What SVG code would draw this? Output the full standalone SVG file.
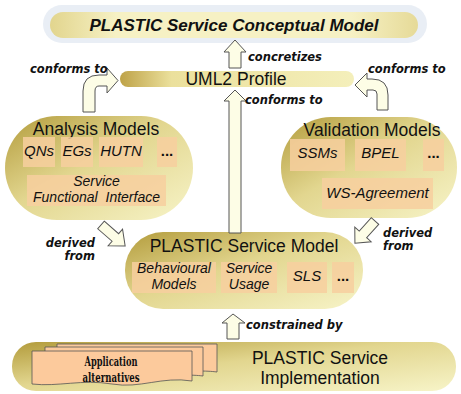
<svg xmlns="http://www.w3.org/2000/svg" width="461" height="394" viewBox="0 0 461 394">
<defs>
<linearGradient id="gold" x1="0" y1="0" x2="1" y2="1">
<stop offset="0" stop-color="#b39c3c"/>
<stop offset="0.45" stop-color="#e2d68f"/>
<stop offset="1" stop-color="#f7f4c8"/>
</linearGradient>
<linearGradient id="uml" x1="0" y1="0" x2="1" y2="0">
<stop offset="0" stop-color="#bea247"/>
<stop offset="0.22" stop-color="#ebe09c"/>
<stop offset="1" stop-color="#f4efbb"/>
</linearGradient>
<linearGradient id="top" x1="0" y1="0" x2="1" y2="0">
<stop offset="0" stop-color="#e2d58e"/>
<stop offset="0.18" stop-color="#f6f1c4"/>
<stop offset="0.82" stop-color="#f6f1c4"/>
<stop offset="1" stop-color="#e6da98"/>
</linearGradient>
<style>
.pill{fill:url(#gold);}
.box{fill:#f7cf9f;fill-opacity:0.85;}
.arrow{fill:#fdfde6;stroke:#555;stroke-width:1;}
.card{fill:#fcca9c;stroke:#555;stroke-width:0.8;}
.lbl{font-family:"DejaVu Sans",sans-serif;font-weight:bold;font-style:italic;font-size:11.5px;fill:#111;}
.title{font-family:"Liberation Sans",Arial,sans-serif;font-size:17.5px;fill:#111;text-anchor:middle;}
.item{font-family:"Liberation Sans",Arial,sans-serif;font-style:italic;font-size:15px;fill:#111;text-anchor:middle;}
.item2{font-family:"Liberation Sans",Arial,sans-serif;font-style:italic;font-size:14px;fill:#111;text-anchor:middle;}
.dots{font-family:"Liberation Sans",Arial,sans-serif;font-weight:bold;font-size:15px;fill:#111;text-anchor:middle;}
.app{font-family:"DejaVu Serif Condensed","DejaVu Serif",serif;font-stretch:condensed;font-weight:bold;font-size:13px;fill:#111;text-anchor:middle;}
</style>
</defs>
<rect width="461" height="394" fill="#ffffff"/>

<g id="conceptual-model">
<rect x="43" y="5" width="384" height="38" rx="19" fill="#e9eef5"/>
<rect x="50" y="12" width="368" height="26" rx="13" fill="url(#top)"/>
<text x="234" y="31" font-family="Liberation Sans,Arial,sans-serif" font-weight="bold" font-style="italic" font-size="17px" fill="#111" text-anchor="middle">PLASTIC Service Conceptual Model</text>
</g>

<g id="uml2-profile">
<rect x="120" y="71" width="234" height="16" rx="8" fill="url(#uml)"/>
<text x="236" y="85" class="title" font-size="17px">UML2 Profile</text>
</g>

<g id="analysis-models">
<rect x="5" y="116" width="188" height="104" rx="52" class="pill"/>
<text x="96" y="135" class="title">Analysis Models</text>
<rect x="23" y="137" width="32" height="30" class="box"/>
<rect x="61" y="137" width="32" height="30" class="box"/>
<rect x="99" y="137" width="44" height="30" class="box"/>
<rect x="157" y="137" width="20" height="30" class="box"/>
<text x="39" y="156" class="item">QNs</text>
<text x="77" y="156" class="item">EGs</text>
<text x="121" y="156" class="item">HUTN</text>
<text x="167" y="156" class="dots">...</text>
<rect x="27" y="175" width="139" height="31" class="box"/>
<text x="96.5" y="186" class="item2">Service</text>
<text x="96.5" y="202" class="item2" word-spacing="4">Functional Interface</text>
</g>

<g id="validation-models">
<rect x="281" y="117" width="176" height="101" rx="50" class="pill"/>
<text x="372" y="136" class="title">Validation Models</text>
<rect x="290" y="139" width="55" height="32" class="box"/>
<rect x="355" y="139" width="51" height="32" class="box"/>
<rect x="423" y="139" width="21" height="32" class="box"/>
<text x="317.5" y="158" class="item">SSMs</text>
<text x="380.5" y="158" class="item">BPEL</text>
<text x="433.5" y="158" class="dots">...</text>
<rect x="322" y="178" width="111" height="31" class="box"/>
<text x="377.5" y="198" class="item">WS-Agreement</text>
</g>

<g id="service-model">
<rect x="125" y="232" width="238" height="77" rx="38" class="pill"/>
<text x="244" y="252" class="title">PLASTIC Service Model</text>
<rect x="132" y="262" width="84" height="31" class="box"/>
<rect x="221" y="262" width="56" height="31" class="box"/>
<rect x="287" y="262" width="40" height="31" class="box"/>
<rect x="332" y="262" width="22" height="31" class="box"/>
<text x="174" y="273" class="item2">Behavioural</text>
<text x="174" y="289" class="item2">Models</text>
<text x="249" y="273" class="item2">Service</text>
<text x="249" y="289" class="item2">Usage</text>
<text x="307" y="281" class="item">SLS</text>
<text x="343" y="281" class="dots">...</text>
</g>

<g id="service-implementation">
<rect x="12" y="342" width="444" height="49" rx="24" class="pill"/>
<text x="320" y="364" class="title" font-size="17px">PLASTIC Service</text>
<text x="320" y="384" class="title" font-size="17px">Implementation</text>
<path class="card" d="M57,344 L217,344 L217,372 C195,369 160,374 57,372 Z"/>
<path class="card" d="M45,347 L203,347 L203,376 C180,373 150,379 45,376 Z"/>
<path class="card" d="M32,351 L192,351 L192,381 C162,376 140,389 112,384 C82,379 58,387 32,384 Z"/>
<text x="111" y="366" class="app" textLength="53" lengthAdjust="spacingAndGlyphs">Application</text>
<text x="111" y="382" class="app" textLength="57" lengthAdjust="spacingAndGlyphs">alternatives</text>
</g>

<g id="connectors">
<polygon class="arrow" points="235,40 246,52 241,52 241,68 229,68 229,52 224,52"/>
<polygon class="arrow" points="235,90 246,101 241,101 241,233 229,233 229,101 224,101"/>
<polygon class="arrow" points="233,314 245,323 239,323 239,339 227,339 227,323 222,323"/>
<path class="arrow" d="M83,112 L83,91 Q83,75 99,75 L107,75 L107,68 L118,80.5 L107,93 L107,86 L99,86 Q95,86 95,91 L95,112 Z"/>
<path class="arrow" d="M388,110 L388,95 Q388,79 372,79 L367,79 L367,73 L355,85 L367,97 L367,90 L373,90 Q377,90 377,94 L377,110 Z"/>
<polygon class="arrow" transform="translate(101,225) rotate(41)" points="0,-5 19,-5 19,-11 32,0 19,11 19,5 0,5"/>
<polygon class="arrow" transform="translate(375,221) rotate(132)" points="0,-5 18,-5 18,-11 30,0 18,11 18,5 0,5"/>
<text x="30" y="73" class="lbl">conforms to</text>
<text x="368" y="73" class="lbl">conforms to</text>
<text x="248" y="61" class="lbl">concretizes</text>
<text x="245" y="104" class="lbl">conforms to</text>
<text x="95" y="247" class="lbl" font-size="12px" text-anchor="end">derived</text>
<text x="95" y="260" class="lbl" font-size="12px" text-anchor="end">from</text>
<text x="383" y="237" class="lbl" font-size="12px">derived</text>
<text x="383" y="250" class="lbl" font-size="12px">from</text>
<text x="246" y="329" class="lbl">constrained by</text>
</g>
</svg>
